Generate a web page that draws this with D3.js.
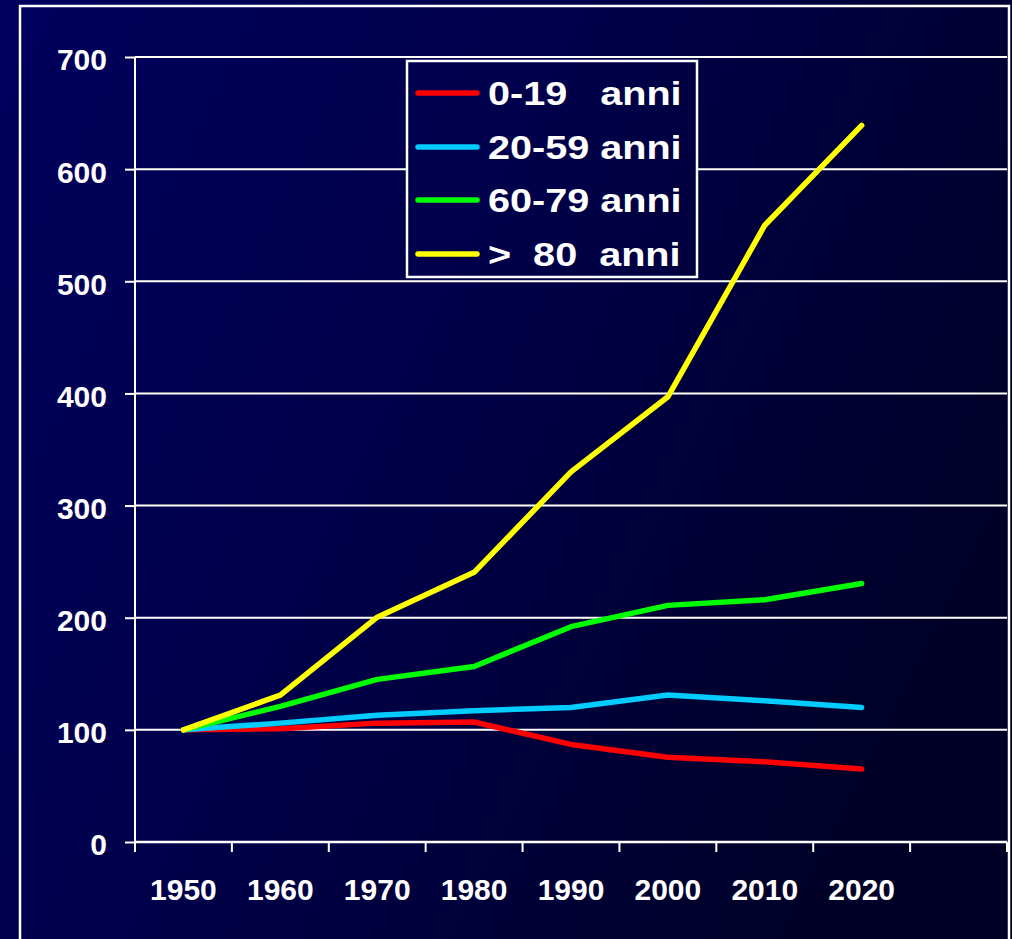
<!DOCTYPE html>
<html>
<head>
<meta charset="utf-8">
<script src="https://cdn.jsdelivr.net/npm/d3@7"></script>
<style>
  html, body { margin: 0; padding: 0; background: #000040; }
  svg { display: block; }
  text { font-family: "Liberation Sans", Arial, sans-serif; font-weight: bold; fill: #ffffff; }
</style>
</head>
<body>
<svg id="chart" width="1012" height="939"></svg>
<script>
// Popolazione per classi d'età, indice 1950 = 100
const years = ["1950", "1960", "1970", "1980", "1990", "2000", "2010", "2020"];
const eta0_19 = [100, 101, 106, 107, 87, 75.5, 71.5, 65];
const eta20_59 = [100, 106, 113, 117, 120, 131, 126, 120];
const eta60_79 = [100, 121, 145, 156.5, 192, 211, 216, 230.5];
const eta80 = [100, 131, 200.5, 240.5, 330, 397, 550, 639];
const seriesNames = ["0-19   anni", "20-59 anni", "60-79 anni", ">  80  anni"];
const seriesColors = ["#ff0000", "#00ccff", "#00ff00", "#ffff00"];
const yTicks = [0, 100, 200, 300, 400, 500, 600, 700];

const series = [eta0_19, eta20_59, eta60_79, eta80].map((v, i) => ({
  name: seriesNames[i], color: seriesColors[i], values: v
}));

const W = 1012, H = 939;
const plot = { left: 135, right: 1007, top: 57, bottom: 842 };

const svg = d3.select("#chart");

// background gradient
const defs = svg.append("defs");
const grad = defs.append("linearGradient")
  .attr("id", "bg").attr("gradientUnits", "userSpaceOnUse")
  .attr("x1", 0).attr("y1", 0).attr("x2", W).attr("y2", 500);
grad.append("stop").attr("offset", 0).attr("stop-color", "#00005e");
grad.append("stop").attr("offset", 0.5).attr("stop-color", "#000049");
grad.append("stop").attr("offset", 1).attr("stop-color", "#000027");

svg.append("rect").attr("width", W).attr("height", H).attr("fill", "url(#bg)");

// outer frame
svg.append("rect")
  .attr("x", 20).attr("y", 6).attr("width", 989).attr("height", H + 20)
  .attr("fill", "none").attr("stroke", "#ffffff").attr("stroke-width", 2.5);

// scales: one spare slot on the right of the category axis
const x = d3.scaleBand().domain(years.concat([""])).range([plot.left, plot.right]).padding(0);
const y = d3.scaleLinear().domain([0, 700]).range([plot.bottom, plot.top]);

// horizontal gridlines
svg.append("g").selectAll("line").data(yTicks.filter(t => t > 0)).join("line")
  .attr("x1", plot.left).attr("x2", plot.right)
  .attr("y1", d => y(d)).attr("y2", d => y(d))
  .attr("stroke", "#ffffff").attr("stroke-width", 2);

// y axis
const yAxis = svg.append("g").attr("transform", `translate(${plot.left},0)`)
  .call(d3.axisLeft(y).tickValues(yTicks).tickSize(10).tickPadding(18).tickFormat(d3.format("d")));
yAxis.select(".domain").remove();
yAxis.selectAll(".tick line").attr("stroke", "#ffffff").attr("stroke-width", 2);
yAxis.selectAll(".tick text").attr("font-size", 30).attr("dy", "0.43em")
  .style("font-family", "'Liberation Sans', Arial, sans-serif").style("font-weight", "bold").attr("fill", "#ffffff");
svg.append("line").attr("x1", plot.left).attr("x2", plot.left)
  .attr("y1", plot.top).attr("y2", plot.bottom + 10)
  .attr("stroke", "#ffffff").attr("stroke-width", 2);

// x axis: ticks on category boundaries
const boundaries = x.domain().map(d => x(d)).concat([plot.right]);
svg.append("line").attr("x1", plot.left).attr("x2", plot.right)
  .attr("y1", plot.bottom).attr("y2", plot.bottom)
  .attr("stroke", "#ffffff").attr("stroke-width", 2.5);
svg.append("g").selectAll("line").data(boundaries).join("line")
  .attr("x1", d => d).attr("x2", d => d)
  .attr("y1", plot.bottom).attr("y2", plot.bottom + 10)
  .attr("stroke", "#ffffff").attr("stroke-width", 2);
svg.append("g").selectAll("text").data(years).join("text")
  .attr("x", d => x(d) + x.bandwidth() / 2).attr("y", 900)
  .attr("text-anchor", "middle").attr("font-size", 30)
  .text(d => d);

// series lines
const line = d3.line()
  .x((d, i) => x(years[i]) + x.bandwidth() / 2)
  .y(d => y(d));
svg.append("g").selectAll("path").data(series).join("path")
  .attr("d", d => line(d.values))
  .attr("fill", "none").attr("stroke", d => d.color)
  .attr("stroke-width", 5.5).attr("stroke-linecap", "round").attr("stroke-linejoin", "round");

// legend
const lg = svg.append("g");
lg.append("rect").attr("x", 407).attr("y", 61).attr("width", 290).attr("height", 216)
  .attr("fill", "url(#bg)").attr("stroke", "#ffffff").attr("stroke-width", 2.5);
const rowY = [105, 159, 212, 266];
series.forEach((s, i) => {
  lg.append("line").attr("x1", 418).attr("x2", 477)
    .attr("y1", rowY[i] - 12).attr("y2", rowY[i] - 12)
    .attr("stroke", s.color).attr("stroke-width", 5.5).attr("stroke-linecap", "round");
  lg.append("text")
    .attr("transform", `translate(488,${rowY[i]}) scale(1.2,1)`)
    .attr("font-size", 33).style("white-space", "pre")
    .text(s.name);
});
</script>
</body>
</html>
